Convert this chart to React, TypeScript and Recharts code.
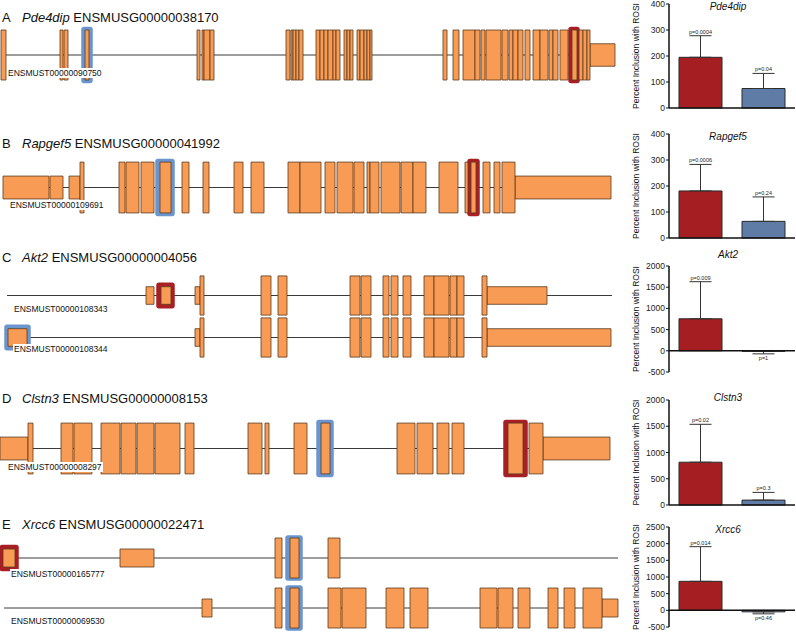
import {
  Bar,
  Cell,
  ComposedChart,
  ErrorBar,
  LabelList,
  Line,
  ReferenceArea,
  ReferenceLine,
  XAxis,
  YAxis,
} from "recharts";

const FONT = '"Liberation Sans", Arial, Helvetica, sans-serif';
const EXON_FILL = "#f89b54";
const EXON_EDGE = "#5b3b1f";
const MARK_COLOR = { red: "#a81f24", blue: "#6a95cf" };
const BAR_COLORS = ["#a51e22", "#5f7ca6"];

type Span = [number, number];
type Mark = { from: number; to: number; color: "red" | "blue"; half?: boolean };

// gene models, positions along the drawn gene (0..640)
const pde4dipIntron: Span = [1, 615];
const pde4dipCds: Span[] = [
  [1, 6], [60, 63], [64, 68], [85, 89], [197, 200], [202, 204], [204, 210], [210, 214],
  [286, 290], [291, 293], [293, 296], [296, 299], [299, 303], [316, 320], [320, 324],
  [324, 328], [328, 333], [333, 336], [336, 340], [344, 347], [347, 350], [350, 353],
  [357, 360], [360, 364], [364, 367], [367, 370], [370, 372], [443, 447], [453, 459],
  [463, 475], [475, 480], [481, 485], [486, 501], [502, 508], [509, 513], [513, 518],
  [518, 523], [525, 530], [533, 540], [540, 548], [549, 553], [553, 558], [560, 568],
  [572, 577], [579, 583], [583, 587], [587, 590],
];
const pde4dipUtr: Span[] = [[590, 615]];
const pde4dipMarks: Mark[] = [
  { from: 82, to: 92, color: "blue" },
  { from: 569, to: 579, color: "red" },
];

const rapgef5Intron: Span = [3, 611];
const rapgef5Cds: Span[] = [
  [80, 84], [119, 125], [126, 139], [141, 154], [160, 171], [182, 189], [203, 209],
  [234, 243], [251, 264], [288, 300], [300, 321], [325, 335], [337, 353], [354, 364],
  [367, 370], [370, 379], [381, 400], [401, 413], [413, 426], [439, 458], [465, 468],
  [471, 476], [483, 490], [494, 500], [502, 515],
];
const rapgef5Utr: Span[] = [[3, 49], [50, 63], [69, 80], [515, 611]];
const rapgef5Marks: Mark[] = [
  { from: 156, to: 174, color: "blue" },
  { from: 468, to: 479, color: "red" },
];

const akt2Cds: Span[] = [
  [200, 204], [261, 271], [278, 287], [350, 360], [361, 371], [383, 389], [391, 398],
  [403, 411], [424, 434], [434, 449], [450, 457], [457, 464], [482, 487],
];
const akt2aIntron: Span = [7, 612];
const akt2aUtr: Span[] = [[146, 154], [161, 171], [195, 200], [487, 547]];
const akt2aMarks: Mark[] = [{ from: 157, to: 174, color: "red", half: true }];
const akt2bIntron: Span = [30, 611];
const akt2bUtr: Span[] = [[8, 27], [195, 200], [487, 611]];
const akt2bMarks: Mark[] = [{ from: 5, to: 30, color: "blue", half: true }];

const clstn3Intron: Span = [0, 610];
const clstn3Cds: Span[] = [
  [28, 33], [61, 73], [74, 92], [101, 120], [121, 136], [137, 154], [155, 180], [185, 194],
  [248, 262], [265, 269], [294, 307], [321, 330], [397, 415], [417, 433], [437, 449],
  [452, 464], [508, 523], [529, 543],
];
const clstn3Utr: Span[] = [[0, 28], [543, 610]];
const clstn3Marks: Mark[] = [
  { from: 317, to: 333, color: "blue" },
  { from: 504, to: 527, color: "red" },
];

const xrcc6aIntron: Span = [0, 618];
const xrcc6aCds: Span[] = [[275, 282], [290, 299], [328, 340]];
const xrcc6aUtr: Span[] = [[3, 15], [120, 154]];
const xrcc6aMarks: Mark[] = [
  { from: 0, to: 18, color: "red", half: true },
  { from: 286, to: 302, color: "blue" },
];
const xrcc6bIntron: Span = [4, 618];
const xrcc6bCds: Span[] = [
  [275, 282], [290, 299], [328, 341], [342, 366], [386, 404], [410, 428], [480, 497],
  [498, 513], [518, 530], [548, 558], [564, 575], [583, 602],
];
const xrcc6bUtr: Span[] = [[202, 212], [602, 618]];
const xrcc6bMarks: Mark[] = [{ from: 286, to: 302, color: "blue" }];

// percent inclusion with ROSI (red exon, blue exon)
const exonKinds = ["red exon", "blue exon"];

const pde4dipPsi = [195, 75];
const pde4dipErr: Span[] = [[0, 83], [0, 58]];
const pde4dipP = ["p=0.0004", "p=0.04"];
const pde4dipTicks = [0, 100, 200, 300, 400];

const rapgef5Psi = [181, 64];
const rapgef5Err: Span[] = [[0, 102], [0, 94]];
const rapgef5P = ["p=0.0006", "p=0.24"];
const rapgef5Ticks = [0, 100, 200, 300, 400];

const akt2Psi = [755, -12];
const akt2Err: Span[] = [[0, 875], [60, 0]];
const akt2P = ["p=0.009", "p=1"];
const akt2Ticks = [-500, 0, 500, 1000, 1500, 2000];

const clstn3Psi = [815, 93];
const clstn3Err: Span[] = [[0, 722], [0, 147]];
const clstn3P = ["p=0.02", "p=0.3"];
const clstn3Ticks = [0, 500, 1000, 1500, 2000];

const xrcc6Psi = [870, -45];
const xrcc6Err: Span[] = [[0, 1040], [60, 0]];
const xrcc6P = ["p=0.014", "p=0.46"];
const xrcc6Ticks = [-500, 0, 500, 1000, 1500, 2000, 2500];

function GeneTitle({ letter, gene, id, y }: { letter: string; gene: string; id: string; y: number }) {
  const base = { position: "absolute" as const, top: y - 7, fontSize: 13, lineHeight: "15px", whiteSpace: "nowrap" as const };
  return (
    <>
      <div style={{ ...base, left: 2 }}>{letter}</div>
      <div style={{ ...base, left: 22 }}>
        <i>{gene}</i> {id}
      </div>
    </>
  );
}

function Transcript(props: {
  y: number;
  h: number;
  intron: Span;
  cds: Span[];
  utr: Span[];
  marks: Mark[];
  label: string;
  labelX: number;
  labelY: number;
}) {
  const { y, h, intron, cds, utr, marks, label, labelX, labelY } = props;
  const H = Math.round(h * 1.2);
  const data = intron.map((x) => ({ x, y: 0 }));
  return (
    <>
      <div style={{ position: "absolute", left: 0, top: y - H / 2, width: 640, height: H }}>
        <ComposedChart width={640} height={H} data={data} margin={{ top: 0, right: 0, bottom: 0, left: 0 }}>
          <XAxis dataKey="x" type="number" domain={[0, 640]} allowDataOverflow hide />
          <YAxis type="number" domain={[-1.2, 1.2]} allowDataOverflow hide />
          <Line
            dataKey="y"
            stroke="#3a3a3a"
            strokeWidth={1}
            dot={false}
            activeDot={false}
            isAnimationActive={false}
            zIndex={50}
          />
          {marks.map((m, i) => (
            <ReferenceArea
              key={"m" + i}
              x1={m.from}
              x2={m.to}
              y1={m.half ? -0.62 : -1.1}
              y2={m.half ? 0.62 : 1.1}
              fill={MARK_COLOR[m.color]}
              fillOpacity={1}
              stroke={MARK_COLOR[m.color]}
              strokeWidth={1.5}
              radius={2}
              ifOverflow="visible"
            />
          ))}
          {utr.map(([a, b], i) => (
            <ReferenceArea
              key={"u" + i}
              x1={a}
              x2={b}
              y1={-0.45}
              y2={0.45}
              fill={EXON_FILL}
              fillOpacity={1}
              stroke={EXON_EDGE}
              strokeWidth={0.8}
              ifOverflow="visible"
            />
          ))}
          {cds.map(([a, b], i) => (
            <ReferenceArea
              key={"c" + i}
              x1={a}
              x2={b}
              y1={-1}
              y2={1}
              fill={EXON_FILL}
              fillOpacity={1}
              stroke={EXON_EDGE}
              strokeWidth={0.8}
              ifOverflow="visible"
            />
          ))}
        </ComposedChart>
      </div>
      <div
        style={{
          position: "absolute",
          left: labelX,
          top: labelY - 5,
          fontSize: 8.5,
          lineHeight: "10px",
          background: "#fff",
          padding: "0 1px",
          color: "#111",
          whiteSpace: "nowrap",
        }}
      >
        {label}
      </div>
    </>
  );
}

function InclusionChart(props: {
  title: string;
  titleY: number;
  plotTop: number;
  plotBottom: number;
  psi: number[];
  err: Span[];
  p: string[];
  ticks: number[];
}) {
  const { title, titleY, plotTop, plotBottom, psi, err, p, ticks } = props;
  const top = plotTop - 5;
  const height = plotBottom - plotTop + 10;
  const rows = exonKinds.map((kind, i) => ({
    kind,
    psi: psi[i],
    err: err[i],
    tipUp: psi[i] >= 0 ? psi[i] + err[i][1] : null,
    pUp: psi[i] >= 0 ? p[i] : null,
    tipDown: psi[i] < 0 ? psi[i] - err[i][0] : null,
    pDown: psi[i] < 0 ? p[i] : null,
  }));
  const domain = [ticks[0], ticks[ticks.length - 1]];
  return (
    <>
      <div style={{ position: "absolute", left: 625, top, width: 171, height }}>
        <ComposedChart width={171} height={height} data={rows} margin={{ top: 5, right: 1, bottom: 5, left: 14 }}>
          <XAxis dataKey="kind" hide />
          <YAxis
            type="number"
            domain={domain}
            ticks={ticks}
            interval={0}
            width={30}
            tickSize={3}
            tickMargin={1}
            axisLine={{ stroke: "#111", strokeWidth: 1.5 }}
            tickLine={{ stroke: "#111", strokeWidth: 1 }}
            tick={{ fontSize: 8.5, fill: "#222", fontFamily: FONT }}
            label={{
              value: "Percent Inclusion with ROSI",
              angle: -90,
              position: "insideLeft",
              offset: -3,
              style: { textAnchor: "middle", fontSize: 8.5, fill: "#111", fontFamily: FONT },
            }}
          />
          <Bar dataKey="psi" barSize={43} stroke="#2b2b2b" strokeWidth={1} isAnimationActive={false}>
            {rows.map((_, i) => (
              <Cell key={i} fill={BAR_COLORS[i]} />
            ))}
            <ErrorBar dataKey="err" direction="y" width={11} stroke="#333" strokeWidth={1} />
          </Bar>
          <ReferenceLine y={0} stroke="#111" strokeWidth={1.5} />
          <Line dataKey="tipUp" stroke="none" dot={false} activeDot={false} isAnimationActive={false} legendType="none">
            <LabelList dataKey="pUp" position="top" offset={2} fontSize={5.5} fill="#222" fontFamily={FONT} />
          </Line>
          <Line dataKey="tipDown" stroke="none" dot={false} activeDot={false} isAnimationActive={false} legendType="none">
            <LabelList dataKey="pDown" position="bottom" offset={2} fontSize={5.5} fill="#222" fontFamily={FONT} />
          </Line>
        </ComposedChart>
      </div>
      <div
        style={{
          position: "absolute",
          left: 688,
          width: 80,
          textAlign: "center",
          top: titleY - 6,
          fontSize: 10,
          lineHeight: "12px",
          fontStyle: "italic",
        }}
      >
        {title}
      </div>
    </>
  );
}

export default function App() {
  return (
    <div
      style={{
        position: "absolute",
        left: 0,
        top: 0,
        width: 796,
        height: 634,
        overflow: "hidden",
        background: "#fff",
        fontFamily: FONT,
        color: "#111",
      }}
    >
      <GeneTitle letter="A" gene="Pde4dip" id="ENSMUSG00000038170" y={17} />
      <Transcript y={55} h={50} intron={pde4dipIntron} cds={pde4dipCds} utr={pde4dipUtr} marks={pde4dipMarks}
        label="ENSMUST00000090750" labelX={7} labelY={73} />

      <GeneTitle letter="B" gene="Rapgef5" id="ENSMUSG00000041992" y={143} />
      <Transcript y={187.5} h={51} intron={rapgef5Intron} cds={rapgef5Cds} utr={rapgef5Utr} marks={rapgef5Marks}
        label="ENSMUST00000109691" labelX={9} labelY={205} />

      <GeneTitle letter="C" gene="Akt2" id="ENSMUSG00000004056" y={257} />
      <Transcript y={295.5} h={39} intron={akt2aIntron} cds={akt2Cds} utr={akt2aUtr} marks={akt2aMarks}
        label="ENSMUST00000108343" labelX={13} labelY={309} />
      <Transcript y={337.5} h={39} intron={akt2bIntron} cds={akt2Cds} utr={akt2bUtr} marks={akt2bMarks}
        label="ENSMUST00000108344" labelX={13} labelY={349} />

      <GeneTitle letter="D" gene="Clstn3" id="ENSMUSG00000008153" y={398} />
      <Transcript y={448.5} h={51} intron={clstn3Intron} cds={clstn3Cds} utr={clstn3Utr} marks={clstn3Marks}
        label="ENSMUST00000008297" labelX={7} labelY={467} />

      <GeneTitle letter="E" gene="Xrcc6" id="ENSMUSG00000022471" y={524} />
      <Transcript y={558} h={40} intron={xrcc6aIntron} cds={xrcc6aCds} utr={xrcc6aUtr} marks={xrcc6aMarks}
        label="ENSMUST00000165777" labelX={10} labelY={574} />
      <Transcript y={608} h={40} intron={xrcc6bIntron} cds={xrcc6bCds} utr={xrcc6bUtr} marks={xrcc6bMarks}
        label="ENSMUST00000069530" labelX={10} labelY={621} />

      <InclusionChart title="Pde4dip" titleY={7} plotTop={4} plotBottom={108}
        psi={pde4dipPsi} err={pde4dipErr} p={pde4dipP} ticks={pde4dipTicks} />
      <InclusionChart title="Rapgef5" titleY={137} plotTop={134} plotBottom={238}
        psi={rapgef5Psi} err={rapgef5Err} p={rapgef5P} ticks={rapgef5Ticks} />
      <InclusionChart title="Akt2" titleY={255} plotTop={266} plotBottom={372}
        psi={akt2Psi} err={akt2Err} p={akt2P} ticks={akt2Ticks} />
      <InclusionChart title="Clstn3" titleY={398} plotTop={400} plotBottom={505}
        psi={clstn3Psi} err={clstn3Err} p={clstn3P} ticks={clstn3Ticks} />
      <InclusionChart title="Xrcc6" titleY={530} plotTop={527} plotBottom={627}
        psi={xrcc6Psi} err={xrcc6Err} p={xrcc6P} ticks={xrcc6Ticks} />
    </div>
  );
}
